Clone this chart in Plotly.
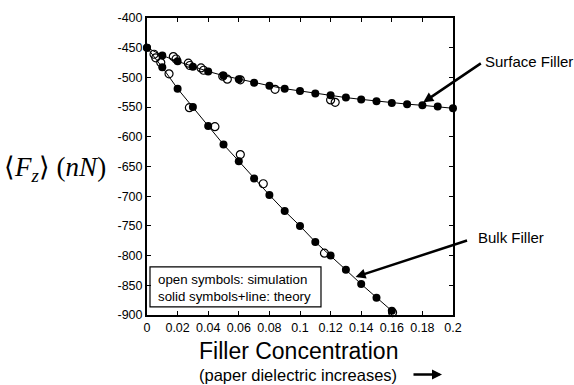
import plotly.graph_objects as go

# Theory (solid symbols + line)
x_theory_surface = [0, 0.01, 0.02, 0.03, 0.04, 0.05, 0.06, 0.07, 0.08, 0.09, 0.10,
                    0.11, 0.12, 0.13, 0.14, 0.15, 0.16, 0.17, 0.18, 0.19, 0.20]
y_theory_surface = [-450, -463, -473, -482, -490, -497, -503, -509, -514, -519, -523,
                    -527, -530, -534, -537, -540, -543, -545, -547, -549, -552]

x_theory_bulk = [0, 0.01, 0.02, 0.03, 0.04, 0.05, 0.06, 0.07, 0.08, 0.09, 0.10,
                 0.11, 0.12, 0.13, 0.14, 0.15, 0.16]
y_theory_bulk = [-450, -483, -519, -550, -582, -613, -641, -670, -698, -725, -750,
                 -777, -800, -824, -848, -871, -893]

# Simulation (open symbols)
x_sim_surface = [0.0172, 0.019, 0.027, 0.028, 0.0353, 0.037, 0.0495, 0.0525, 0.061,
                 0.0837, 0.120, 0.123]
y_sim_surface = [-465, -469, -476, -480, -484, -488, -498, -503, -504,
                 -520, -538, -542]

x_sim_bulk = [0.0046, 0.0057, 0.009, 0.0144, 0.0277, 0.0444, 0.061, 0.076, 0.116, 0.1605]
y_sim_bulk = [-461, -467, -475, -494, -551, -583, -630, -679, -796, -896]

x_ticks = [0, 0.02, 0.04, 0.06, 0.08, 0.1, 0.12, 0.14, 0.16, 0.18, 0.2]
x_tick_labels = ["0", "0.02", "0.04", "0.06", "0.08", "0.1", "0.12", "0.14", "0.16", "0.18", "0.2"]
y_ticks = [-400, -450, -500, -550, -600, -650, -700, -750, -800, -850, -900]
y_tick_labels = ["-400", "-450", "-500", "-550", "-600", "-650", "-700", "-750", "-800", "-850", "-900"]

FONT = "Liberation Sans, Arial, sans-serif"

fig = go.Figure()

for xs, ys in [(x_theory_surface, y_theory_surface), (x_theory_bulk, y_theory_bulk)]:
    fig.add_trace(go.Scatter(
        x=xs, y=ys, mode="lines+markers",
        line=dict(color="black", width=1),
        marker=dict(symbol="circle", size=8, color="black"),
        cliponaxis=False, showlegend=False, hoverinfo="skip"))

for xs, ys in [(x_sim_surface, y_sim_surface), (x_sim_bulk, y_sim_bulk)]:
    fig.add_trace(go.Scatter(
        x=xs, y=ys, mode="markers",
        marker=dict(symbol="circle-open", size=8, color="black", line=dict(width=1.2)),
        cliponaxis=False, showlegend=False, hoverinfo="skip"))

axis_common = dict(
    showgrid=False, zeroline=False, showline=True, linecolor="black", linewidth=2,
    mirror="ticks", ticks="inside", ticklen=4, tickwidth=1, tickcolor="black",
    tickfont=dict(family=FONT, size=12.5, color="black"),
)

fig.update_xaxes(range=[0, 0.2], tickvals=x_ticks, ticktext=x_tick_labels, **axis_common)
fig.update_yaxes(range=[-900, -400], tickvals=y_ticks, ticktext=y_tick_labels, **axis_common)

annotations = [
    # axis titles
    dict(text="Filler Concentration", xref="paper", yref="paper", x=0.4935, y=-0.1207,
         showarrow=False, xanchor="center", yanchor="middle",
         font=dict(family=FONT, size=23, color="black")),
    dict(text="(paper dielectric increases)", xref="paper", yref="paper", x=0.4935, y=-0.2007,
         showarrow=False, xanchor="center", yanchor="middle",
         font=dict(family=FONT, size=16.5, color="black")),
    dict(text="", xref="paper", yref="paper", x=0.964, y=-0.2007, ax=-30, ay=0,
         showarrow=True, arrowhead=2, arrowsize=0.8, arrowwidth=2.5, arrowcolor="black"),
    dict(text="\u27e8<i>F</i><sub><i>z</i></sub>\u27e9 (<i>nN</i>)", xref="paper", yref="paper",
         x=-0.3007, y=0.493, showarrow=False, xanchor="center", yanchor="middle",
         font=dict(family="Liberation Serif, Times New Roman, serif", size=27, color="black")),
    # labels with arrows
    dict(text="Surface Filler", xref="paper", yref="paper", x=1.098, y=0.852,
         showarrow=False, xanchor="left", yanchor="middle",
         font=dict(family=FONT, size=15, color="black")),
    dict(text="", xref="x", yref="y", x=0.1806, y=-542, ax=59, ay=-40,
         showarrow=True, arrowhead=2, arrowsize=0.8, arrowwidth=2.5, arrowcolor="black"),
    dict(text="Bulk Filler", xref="paper", yref="paper", x=1.074, y=0.26,
         showarrow=False, xanchor="left", yanchor="middle",
         font=dict(family=FONT, size=15, color="black")),
    dict(text="", xref="x", yref="y", x=0.1363, y=-836, ax=113, ay=-37,
         showarrow=True, arrowhead=2, arrowsize=0.8, arrowwidth=2.5, arrowcolor="black"),
    # legend box text
    dict(text="open symbols: simulation<br>solid symbols+line: theory", xref="paper", yref="paper",
         x=0.031, y=0.0905, showarrow=False, xanchor="left", yanchor="middle", align="left",
         font=dict(family=FONT, size=13.3, color="black")),
]

fig.update_layout(
    width=574, height=385,
    margin=dict(l=147, r=121, t=11, b=70, pad=0),
    paper_bgcolor="white", plot_bgcolor="white",
    annotations=annotations,
    shapes=[dict(type="rect", xref="paper", yref="paper", x0=0.0098, x1=0.5686,
                 y0=0.0273, y1=0.162, line=dict(color="black", width=1.2),
                 fillcolor="white", layer="below")],
)

fig.write_html("out.html")
